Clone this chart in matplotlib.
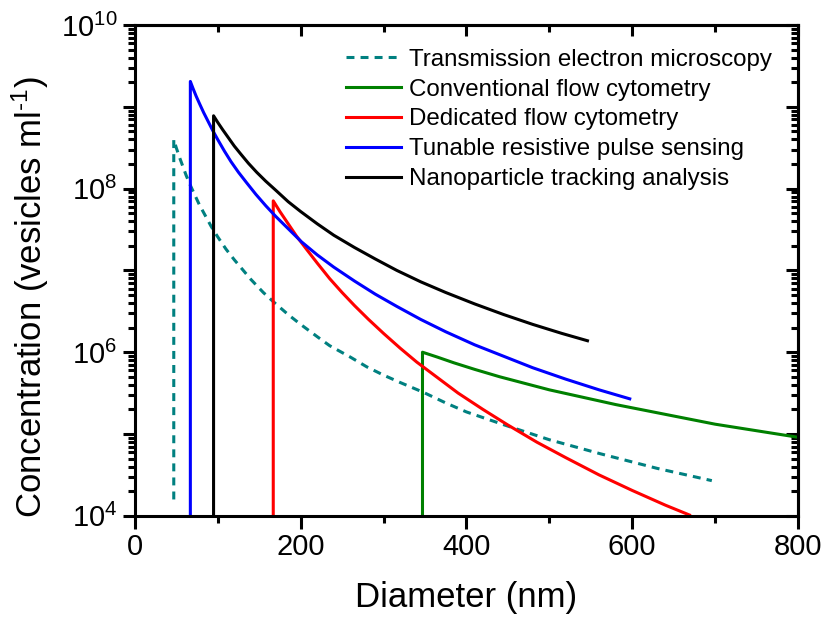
import numpy as np
import matplotlib
matplotlib.use('Agg')
import matplotlib.pyplot as plt
from matplotlib.ticker import MultipleLocator, LogLocator, NullFormatter, FixedLocator

plt.rcParams['font.family'] = ['Liberation Sans', 'DejaVu Sans']
plt.rcParams['mathtext.fontset'] = 'custom'
plt.rcParams['mathtext.rm'] = 'Liberation Sans'
plt.rcParams['mathtext.it'] = 'Liberation Sans:italic'

# diameters (nm) and log10 concentrations (vesicles/ml)
tem_d = [47, 47, 50, 54, 58, 62, 67, 72, 78, 85, 92, 100, 110, 120, 130, 140, 155, 169, 185, 200,
         220, 235, 260, 280, 300, 320, 348, 375, 400, 446, 500, 561, 630, 696]
tem_c = [4.20, 8.60, 8.50, 8.38, 8.27, 8.16, 8.04, 7.93, 7.80, 7.67, 7.54, 7.41, 7.26, 7.13, 7.01, 6.89,
         6.73, 6.60, 6.46, 6.34, 6.19, 6.08, 5.94, 5.82, 5.72, 5.63, 5.51, 5.38, 5.27, 5.11, 4.93,
         4.76, 4.58, 4.43]

cfc_d = [347, 347, 365, 385, 410, 440, 470, 500, 540, 580, 620, 660, 700, 750, 800]
cfc_c = [4.0, 6.00, 5.94, 5.87, 5.79, 5.70, 5.62, 5.54, 5.45, 5.36, 5.28, 5.20, 5.12, 5.04, 4.96]

dfc_d = [167, 167, 175, 185, 195, 207, 220, 235, 250, 265, 282, 300, 320, 340, 365, 390, 420, 450,
         485, 520, 560, 600, 640, 669]
dfc_c = [4.0, 7.85, 7.72, 7.57, 7.42, 7.26, 7.09, 6.90, 6.73, 6.57, 6.40, 6.23, 6.05, 5.88, 5.69,
         5.50, 5.30, 5.11, 4.90, 4.71, 4.50, 4.31, 4.13, 4.01]

trps_d = [67, 67, 70, 74, 78, 83, 88, 94, 100, 108, 116, 125, 135, 146, 158, 170, 185, 201, 220,
          240, 265, 290, 316, 345, 375, 410, 445, 480, 520, 560, 597]
trps_c = [4.0, 9.31, 9.23, 9.13, 9.04, 8.93, 8.83, 8.71, 8.60, 8.46, 8.33, 8.20, 8.07, 7.93, 7.79,
          7.66, 7.51, 7.35, 7.19, 7.04, 6.87, 6.71, 6.56, 6.40, 6.25, 6.09, 5.95, 5.81, 5.67, 5.54, 5.43]

nta_d = [95, 95, 100, 106, 113, 120, 128, 137, 147, 158, 170, 185, 200, 220, 240, 265, 290, 316,
         345, 375, 410, 445, 480, 515, 546]
nta_c = [4.0, 8.89, 8.81, 8.72, 8.62, 8.52, 8.42, 8.31, 8.20, 8.09, 7.98, 7.84, 7.72, 7.57, 7.43,
         7.28, 7.14, 7.00, 6.86, 6.73, 6.59, 6.46, 6.34, 6.23, 6.14]

labels = ['Transmission electron microscopy', 'Conventional flow cytometry',
          'Dedicated flow cytometry', 'Tunable resistive pulse sensing',
          'Nanoparticle tracking analysis']

fig = plt.figure(figsize=(8.27, 6.17), dpi=100)
ax = fig.add_axes([0.163, 0.164, 0.802, 0.7955])

lw = 2.2
ax.plot(tem_d, 10**np.array(tem_c), color='#008080', lw=lw, ls=(0, (2.6, 2.0)), label=labels[0])
ax.plot(cfc_d, 10**np.array(cfc_c), color='#008000', lw=lw, label=labels[1])
ax.plot(dfc_d, 10**np.array(dfc_c), color='#ff0000', lw=lw, label=labels[2])
ax.plot(trps_d, 10**np.array(trps_c), color='#0000ff', lw=lw, label=labels[3])
ax.plot(nta_d, 10**np.array(nta_c), color='black', lw=lw, label=labels[4])

ax.set_yscale('log')
ax.set_xlim(0, 800)
ax.set_ylim(1e4, 1e10)

decades = [1e4, 1e5, 1e6, 1e7, 1e8, 1e9, 1e10]
ax.xaxis.set_major_locator(MultipleLocator(200))
ax.xaxis.set_minor_locator(MultipleLocator(100))
ax.yaxis.set_major_locator(FixedLocator(decades))
ax.yaxis.set_minor_locator(LogLocator(base=10, subs=np.arange(2, 10), numticks=20))
ax.yaxis.set_minor_formatter(NullFormatter())
ax.set_yticks(decades)
ax.set_yticklabels(['$10^{4}$', '', '$10^{6}$', '', '$10^{8}$', '', '$10^{10}$'])

for s in ax.spines.values():
    s.set_linewidth(2.2)

ax.tick_params(axis='both', which='major', labelsize=21, width=2.2, length=9, direction='out')
ax.tick_params(axis='both', which='minor', width=2.2, length=5, direction='out')
# mirrored ticks on top/right point inward
ax2 = ax.secondary_xaxis('top')
ax2.xaxis.set_major_locator(MultipleLocator(200))
ax2.xaxis.set_minor_locator(MultipleLocator(100))
ax2.tick_params(which='major', direction='in', length=8, width=2.2, labeltop=False)
ax2.tick_params(which='minor', direction='in', length=5, width=2.2)
ax2.spines['top'].set_linewidth(2.2)
ax3 = ax.secondary_yaxis('right')
ax3.yaxis.set_major_locator(FixedLocator(decades))
ax3.yaxis.set_minor_locator(LogLocator(base=10, subs=np.arange(2, 10), numticks=20))
ax3.yaxis.set_minor_formatter(NullFormatter())
ax3.tick_params(which='major', direction='in', length=9, width=2.2, labelright=False)
ax3.tick_params(which='minor', direction='in', length=5, width=2.2)
ax3.spines['right'].set_linewidth(2.2)

ax.set_xlabel('Diameter (nm)', fontsize=25, labelpad=14)
ax.set_ylabel('Concentration (vesicles ml$^{\\text{-1}}$)', fontsize=25)
ax.yaxis.set_label_coords(-0.126, 0.446)

ax.legend(loc='upper left', bbox_to_anchor=(0.318, 0.952), frameon=False, fontsize=17.4,
          handlelength=2.27, handletextpad=0.33, labelspacing=0.33, borderpad=0, borderaxespad=0)

fig.savefig('out.png', dpi=100)
